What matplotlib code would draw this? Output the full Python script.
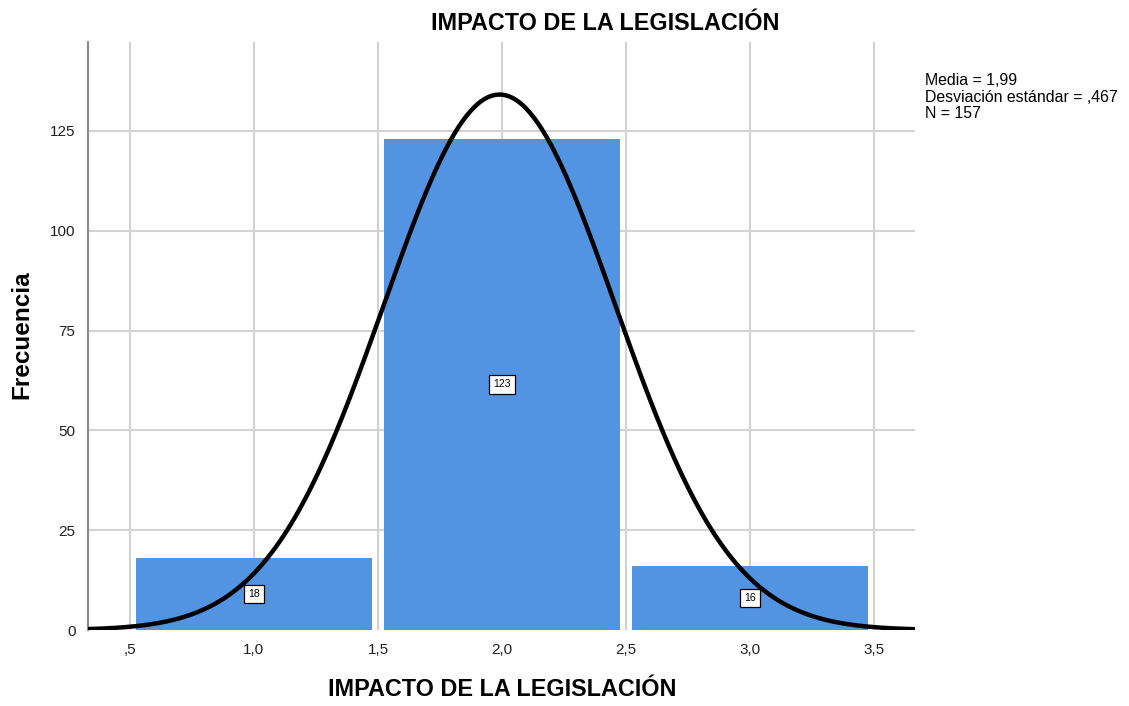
import numpy as np
import matplotlib
matplotlib.use('Agg')
import matplotlib.pyplot as plt

# Histogram data (bin centres and counts)
bin_centers = [1.0, 2.0, 3.0]
counts = [18, 123, 16]
bin_width = 1.0

# Summary statistics shown in the chart
media = 1.99
desv = 0.467
n = 157

x_ticks = [0.5, 1.0, 1.5, 2.0, 2.5, 3.0, 3.5]
x_tick_labels = [',5', '1,0', '1,5', '2,0', '2,5', '3,0', '3,5']
y_ticks = [0, 25, 50, 75, 100, 125]

plt.rcParams['font.family'] = ['Liberation Sans', 'DejaVu Sans']

fig = plt.figure(figsize=(11.29, 7.06), dpi=100)
ax = fig.add_axes([0.0779, 0.1076, 0.7326, 0.833])

ax.set_xlim(0.331, 3.665)
ax.set_ylim(0, 147.3)

# grid
for xt in x_ticks:
    ax.axvline(xt, color='#d2d2d2', lw=1.5, zorder=0)
for yt in y_ticks[1:]:
    ax.axhline(yt, color='#d2d2d2', lw=1.5, zorder=0)

ax.bar(bin_centers, counts, width=0.95, color='#5294e2', zorder=2)

# count labels in the middle of each bar
for c, v in zip(bin_centers, counts):
    ax.text(c, v / 2, str(v), ha='center', va='center', fontsize=7.5, zorder=4,
            bbox=dict(boxstyle='square,pad=0.4', fc='white', ec='black', lw=0.9))

# fitted normal curve
xs = np.linspace(0.331, 3.665, 400)
ys = n * bin_width / (desv * np.sqrt(2 * np.pi)) * np.exp(-0.5 * ((xs - media) / desv) ** 2)
ax.plot(xs, ys, color='black', lw=3.2, zorder=3, solid_capstyle='round')

ax.set_xticks(x_ticks)
ax.set_xticklabels(x_tick_labels, fontsize=11, color='#222222')
ax.set_yticks(y_ticks)
ax.set_yticklabels([str(v) for v in y_ticks], fontsize=11, color='#222222')
ax.tick_params(length=0, pad=9)

for s in ['top', 'right', 'bottom']:
    ax.spines[s].set_visible(False)
ax.spines['left'].set_color('#8a8a8a')
ax.spines['left'].set_linewidth(1.5)

fig.text(605 / 1129, 1 - 23 / 706, 'IMPACTO DE LA LEGISLACIÓN', fontsize=16.8,
         fontweight='bold', ha='center', va='center')
fig.text(502 / 1129, 1 - 690 / 706, 'IMPACTO DE LA LEGISLACIÓN', fontsize=16.8,
         fontweight='bold', ha='center', va='center')
fig.text(22 / 1129, 1 - 335 / 706, 'Frecuencia', fontsize=17.5, fontweight='bold',
         rotation=90, ha='center', va='center')

stats_text = 'Media = 1,99\nDesviación estándar = ,467\nN = 157'
fig.text(0.819, 0.896, stats_text, fontsize=11.4, va='top', ha='left', linespacing=1.12)

fig.savefig('out.png', dpi=100)
plt.close(fig)
